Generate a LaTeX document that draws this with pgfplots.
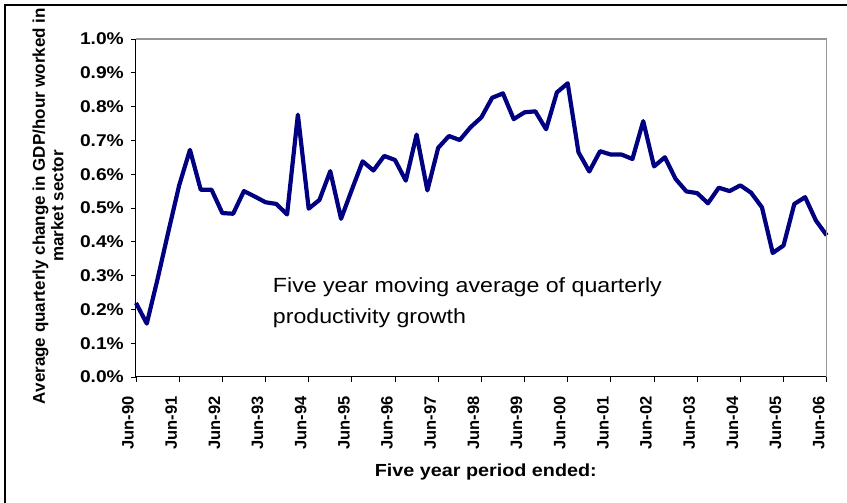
\documentclass[border=0pt]{standalone}
\usepackage{fontspec}
\setmainfont{Liberation Sans}
\newfontfamily\wide[FakeStretch=1.13]{Liberation Sans}
\usepackage{pgfplots}
\pgfplotsset{compat=1.18}
\definecolor{navy}{RGB}{0,0,128}
\definecolor{framegray}{RGB}{150,150,150}
\begin{document}
\begin{tikzpicture}
\useasboundingbox (0,0) rectangle (847pt,503pt);
\draw[line width=1.2pt] (5pt,0) -- (5pt,498pt) -- (847pt,498pt);
\begin{axis}[
  at={(136pt,126pt)}, anchor=south west,
  scale only axis, width=690.7pt, height=338pt,
  xmin=0, xmax=64, ymin=0, ymax=1.0,
  axis lines*=left,
  axis line style={line width=1pt, black, -},
  tick align=outside, major tick length=5pt,
  tick style={black, line width=0.8pt},
  xtick={0,4,...,64},
  xticklabels={Jun-90,Jun-91,Jun-92,Jun-93,Jun-94,Jun-95,Jun-96,Jun-97,Jun-98,Jun-99,Jun-00,Jun-01,Jun-02,Jun-03,Jun-04,Jun-05,Jun-06},
  ytick={0,0.1,0.2,0.3,0.4,0.5,0.6,0.7,0.8,0.9,1.0},
  yticklabels={0.0\%,0.1\%,0.2\%,0.3\%,0.4\%,0.5\%,0.6\%,0.7\%,0.8\%,0.9\%,1.0\%},
  xticklabel style={xshift=-8pt, yshift=-14pt, rotate=90, anchor=east, inner sep=0pt, font=\bfseries\fontsize{16.5}{16.5}\selectfont},
  yticklabel style={xshift=-7pt, anchor=east, inner sep=0pt, font=\wide\bfseries\fontsize{17}{17}\selectfont},
  ylabel={Average quarterly change in GDP/hour worked in\\market sector},
  ylabel style={at={(axis description cs:-0.1274,0.506)}, anchor=center, rotate=0, align=center, font=\bfseries\fontsize{17}{18.5}\selectfont},
  xlabel={Five year period ended:},
  xlabel style={at={(axis description cs:0.5065,-0.282)}, anchor=center, font=\wide\bfseries\fontsize{17.5}{20}\selectfont},
  clip=false,
]
\addplot[navy, line width=4.2pt, line join=round] coordinates {
(0,0.219) (1,0.158) (2,0.29) (3,0.43) (4,0.567) (5,0.672) (6,0.554) (7,0.554)
(8,0.485) (9,0.483) (10,0.550) (11,0.534) (12,0.517) (13,0.512) (14,0.481) (15,0.776)
(16,0.498) (17,0.524) (18,0.609) (19,0.468) (20,0.554) (21,0.638) (22,0.611) (23,0.654)
(24,0.642) (25,0.581) (26,0.717) (27,0.552) (28,0.678) (29,0.713) (30,0.701) (31,0.739)
(32,0.768) (33,0.826) (34,0.839) (35,0.763) (36,0.783) (37,0.786) (38,0.733) (39,0.842)
(40,0.869) (41,0.665) (42,0.608) (43,0.668) (44,0.658) (45,0.658) (46,0.645) (47,0.757)
(48,0.623) (49,0.650) (50,0.586) (51,0.549) (52,0.544) (53,0.514) (54,0.560) (55,0.550)
(56,0.567) (57,0.545) (58,0.502) (59,0.367) (60,0.389) (61,0.512) (62,0.532) (63,0.463)
(64,0.419)
};
\draw[framegray, line width=1.2pt] (rel axis cs:0,1) -- (rel axis cs:1,1) -- (rel axis cs:1,0);
\node[anchor=base west, inner sep=0pt, font=\wide\fontsize{20.5}{31}\selectfont] at (rel axis cs:0.198,0.2506) {Five year moving average of quarterly};
\node[anchor=base west, inner sep=0pt, font=\wide\fontsize{20.5}{31}\selectfont] at (rel axis cs:0.198,0.1589) {productivity growth};
\end{axis}
\end{tikzpicture}
\end{document}
